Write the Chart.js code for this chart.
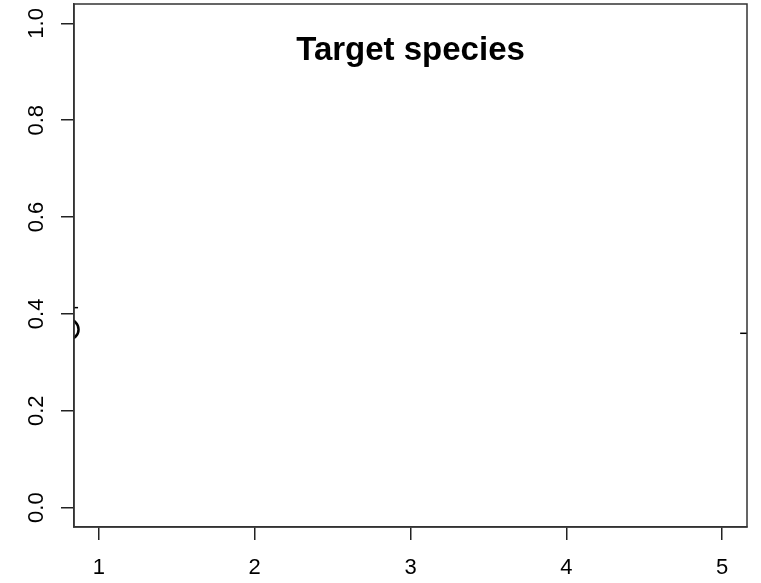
<!DOCTYPE html>
<html>
<head>
<meta charset="utf-8">
<script src="https://cdn.jsdelivr.net/npm/chart.js@4.4.0/dist/chart.umd.min.js"></script>
<style>
  html, body { margin: 0; padding: 0; background: #fff; }
  #plot { display: block; }
</style>
</head>
<body>
<canvas id="plot" width="761" height="583"></canvas>
<script>
// values
const titleText = 'Target species';
const xTicks = [1, 2, 3, 4, 5];
const yTicks = [0, 0.2, 0.4, 0.6, 0.8, 1.0];
const xRange = [0.84, 5.16];
const yRange = [-0.04, 1.04];

// marks that sit mostly outside the plot region (clipped to the box)
const pointX = [0.805];
const pointY = [0.368];
const leftSegX = [0.70, 0.866];
const leftSegY = [0.413, 0.413];
const rightSegX = [5.116, 5.30];
const rightSegY = [0.36, 0.36];

const toXY = (xs, ys) => xs.map((x, i) => ({ x: x, y: ys[i] }));
const ink = '#222';
const fontFam = '"Liberation Sans", Arial, sans-serif';

const boxAndTitle = {
  id: 'boxAndTitle',
  afterDraw(chart) {
    const { ctx, chartArea: a } = chart;
    ctx.save();
    ctx.strokeStyle = '#333';
    ctx.lineWidth = 1.5;
    ctx.strokeRect(a.left, a.top, a.right - a.left, a.bottom - a.top);
    ctx.fillStyle = '#000';
    ctx.font = 'bold 33px ' + fontFam;
    ctx.textAlign = 'center';
    ctx.textBaseline = 'alphabetic';
    ctx.fillText(titleText, (a.left + a.right) / 2, a.top + 56);
    ctx.restore();
  }
};

const ctx = document.getElementById('plot').getContext('2d');
const chart = new Chart(ctx, {
  type: 'scatter',
  data: {
    datasets: [
      { data: toXY(pointX, pointY), pointRadius: 10, pointBorderWidth: 2.5,
        pointBorderColor: '#000', pointBackgroundColor: 'rgba(0,0,0,0)', showLine: false, clip: 0 },
      { data: toXY(leftSegX, leftSegY), showLine: true, borderColor: '#000', borderWidth: 1.5,
        pointRadius: 0, clip: 0 },
      { data: toXY(rightSegX, rightSegY), showLine: true, borderColor: '#000', borderWidth: 1.5,
        pointRadius: 0, clip: 0 }
    ]
  },
  options: {
    responsive: false,
    animation: false,
    layout: { autoPadding: false, padding: { top: 4, right: 14, left: 0, bottom: 0 } },
    plugins: { legend: { display: false }, tooltip: { enabled: false }, title: { display: false } },
    scales: {
      x: {
        type: 'linear', min: xRange[0], max: xRange[1],
        afterBuildTicks: s => { s.ticks = xTicks.map(v => ({ value: v })); },
        afterFit: s => { s.height = 56; s.paddingLeft = 0; s.paddingRight = 0; },
        border: { display: true, color: '#333', width: 1.5 },
        grid: { drawOnChartArea: false, drawTicks: true, tickLength: 13, color: ink, lineWidth: 1.5 },
        ticks: { color: '#000', font: { family: fontFam, size: 22 }, padding: 15,
                 maxRotation: 0, callback: v => String(v) }
      },
      y: {
        type: 'linear', min: yRange[0], max: yRange[1],
        afterBuildTicks: s => { s.ticks = yTicks.map(v => ({ value: v })); },
        afterFit: s => { s.width = 74; s.paddingTop = 0; s.paddingBottom = 0; },
        border: { display: true, color: '#333', width: 1.5 },
        grid: { drawOnChartArea: false, drawTicks: true, tickLength: 13, color: ink, lineWidth: 1.5 },
        ticks: { color: '#000', font: { family: fontFam, size: 22 }, padding: 9,
                 minRotation: 90, maxRotation: 90, crossAlign: 'center',
                 callback: v => Number(v).toFixed(1) }
      }
    }
  },
  plugins: [boxAndTitle]
});
</script>
</body>
</html>
